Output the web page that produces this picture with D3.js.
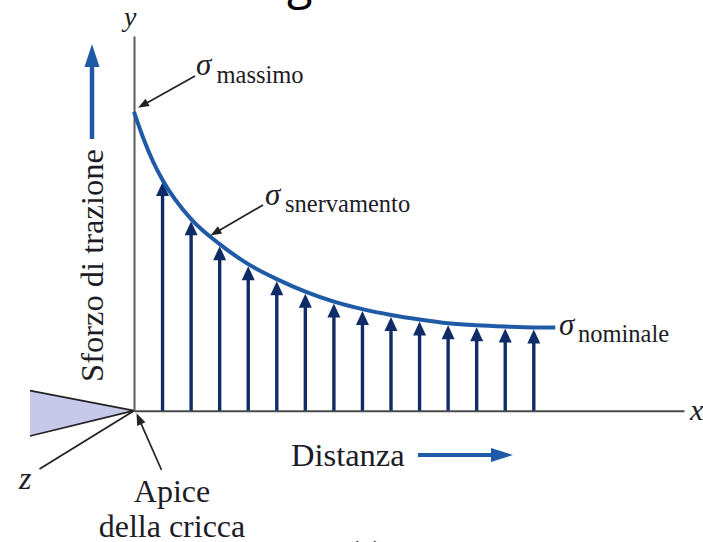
<!DOCTYPE html>
<html>
<head>
<meta charset="utf-8">
<script src="https://cdn.jsdelivr.net/npm/d3@7"></script>
<style>
  html, body { margin: 0; padding: 0; background: #fff; }
  svg { display: block; }
</style>
</head>
<body>
<script>
// Stress profile ahead of a crack tip: distance from the tip vs. tensile stress
const curveDistance = [0, 0.33, 0.67, 1, 2, 3, 4, 5, 6, 7, 8, 9, 10, 11, 12, 13, 14, 14.75];
const curveStress   = [359, 327, 299, 277, 230, 200, 176, 158, 143, 131, 122, 115, 109.5, 105, 102.5, 101, 100, 100];

// Stress vectors drawn along the x axis
const arrowDistance = [1, 2, 3, 4, 5, 6, 7, 8, 9, 10, 11, 12, 13, 14];
const arrowStress   = [277, 230, 200, 176, 158, 143, 131, 122, 115, 109.5, 105, 102.5, 101, 100];

// Axis extents (distance, stress)
const distanceExtent = [0, 19.26];
const stressExtent = [0, 450];

// Texts
const axisNames = ["x", "y", "z"];
const stressSubscripts = ["massimo", "snervamento", "nominale"];
const axisTitles = ["Distanza", "Sforzo di trazione"];
const tipLabel = ["Apice", "della cricca"];

const W = 703, H = 542;
const serif = "'Liberation Serif', 'DejaVu Serif', serif";
const textColor = "#1c1c26";
const curveColor = "#1f5aa6";
const arrowColor = "#0f2c66";
const axisColor = "#4a4a4a";
const inkColor = "#222";

const svg = d3.select("body").append("svg")
  .attr("width", W).attr("height", H)
  .attr("viewBox", `0 0 ${W} ${H}`);

const x = d3.scaleLinear().domain(distanceExtent).range([134, 684]);
const y = d3.scaleLinear().domain(stressExtent).range([410.7, 36]);

// Cut-off heading glyph at the top edge
svg.append("text")
  .attr("x", 287).attr("y", -1)
  .attr("font-family", "'Open Sans', 'Noto Sans', sans-serif")
  .attr("font-size", 47)
  .attr("fill", "#000")
  .text("g");

// Crack wedge (cross-section) entering from the left
const ox = x(0), oy = y(0);
const wedge = [[30, 390.7], [ox, oy], [30, 436]];
svg.append("path")
  .attr("d", d3.line()(wedge) + "Z")
  .attr("fill", "#c6c9e9");
svg.append("path")
  .attr("d", d3.line()(wedge))
  .attr("fill", "none").attr("stroke", inkColor).attr("stroke-width", 1.8);

// z axis (out of plane)
svg.append("line")
  .attr("x1", ox).attr("y1", oy).attr("x2", 39.5).attr("y2", 469)
  .attr("stroke", inkColor).attr("stroke-width", 1.8);

// y and x axes
const yAxis = svg.append("g")
  .attr("transform", `translate(${ox},0)`)
  .call(d3.axisLeft(y).tickValues([]).tickSizeOuter(0));
const xAxis = svg.append("g")
  .attr("transform", `translate(0,${oy})`)
  .call(d3.axisBottom(x).tickValues([]).tickSizeOuter(0));
yAxis.select(".domain").attr("stroke", "#5a5a5a").attr("stroke-width", 2);
xAxis.select(".domain").attr("stroke", axisColor).attr("stroke-width", 2);

// Stress vectors
const headLen = 14, headHalf = 6.5, gap = 2;
const vec = svg.append("g");
arrowDistance.forEach((d, i) => {
  const px = x(d), tip = y(arrowStress[i]) + gap;
  vec.append("line")
    .attr("x1", px).attr("x2", px)
    .attr("y1", oy).attr("y2", tip + headLen - 1)
    .attr("stroke", arrowColor).attr("stroke-width", 3.4);
  vec.append("path")
    .attr("d", d3.line()([[px - headHalf, tip + headLen], [px, tip], [px + headHalf, tip + headLen]]) + "Z")
    .attr("fill", arrowColor);
});

// Stress distribution curve
const pts = curveDistance.map((d, i) => [x(d), y(curveStress[i])]);
svg.append("path")
  .attr("d", d3.line().curve(d3.curveMonotoneX)(pts))
  .attr("fill", "none")
  .attr("stroke", curveColor)
  .attr("stroke-width", 4)
  .attr("stroke-linecap", "butt");

// Helper: thin black leader line with a filled head at its end
function leader(x1, y1, x2, y2, len = 11, half = 4.2) {
  const a = Math.atan2(y2 - y1, x2 - x1);
  const bx = x2 - len * Math.cos(a), by = y2 - len * Math.sin(a);
  const nx = -Math.sin(a) * half, ny = Math.cos(a) * half;
  svg.append("line")
    .attr("x1", x1).attr("y1", y1).attr("x2", bx + 2 * Math.cos(a)).attr("y2", by + 2 * Math.sin(a))
    .attr("stroke", inkColor).attr("stroke-width", 1.7);
  svg.append("path")
    .attr("d", d3.line()([[x2, y2], [bx + nx, by + ny], [bx - nx, by - ny]]) + "Z")
    .attr("fill", inkColor);
}

// Sigma labels
function sigmaLabel(sx, sBase, sub, subX, subBase) {
  svg.append("text")
    .attr("x", sx).attr("y", sBase)
    .attr("font-family", serif).attr("font-style", "italic")
    .attr("font-size", 31).attr("fill", textColor)
    .text("σ");
  svg.append("text")
    .attr("x", subX).attr("y", subBase)
    .attr("font-family", serif).attr("font-size", 24.5).attr("fill", textColor)
    .text(sub);
}

sigmaLabel(196, 75, stressSubscripts[0], 216.5, 83);
leader(195, 76, x(0) + 4, y(curveStress[0]) - 4);

sigmaLabel(265, 205, stressSubscripts[1], 285, 212);
leader(263, 205, 210.5, 235.5);

sigmaLabel(559, 335, stressSubscripts[2], 578, 342);

// Axis names
svg.append("text")
  .attr("x", 124).attr("y", 26)
  .attr("font-family", serif).attr("font-style", "italic")
  .attr("font-size", 28).attr("fill", textColor)
  .text(axisNames[1]);
svg.append("text")
  .attr("x", 690).attr("y", 420)
  .attr("font-family", serif).attr("font-style", "italic")
  .attr("font-size", 30).attr("fill", textColor)
  .text(axisNames[0]);
svg.append("text")
  .attr("x", 19).attr("y", 489)
  .attr("font-family", serif).attr("font-style", "italic")
  .attr("font-size", 32).attr("fill", textColor)
  .text(axisNames[2]);

// Distance title with arrow
svg.append("text")
  .attr("x", 291).attr("y", 466)
  .attr("font-family", serif).attr("font-size", 32.5).attr("fill", textColor)
  .text(axisTitles[0]);
svg.append("line")
  .attr("x1", 418).attr("y1", 455).attr("x2", 494).attr("y2", 455)
  .attr("stroke", curveColor).attr("stroke-width", 4);
svg.append("path")
  .attr("d", d3.line()([[491, 448], [513, 455], [491, 462]]) + "Z")
  .attr("fill", curveColor);

// Stress title with arrow
svg.append("text")
  .attr("transform", "translate(103,265.5) rotate(-90)")
  .attr("text-anchor", "middle")
  .attr("font-family", serif).attr("font-size", 32.5).attr("fill", textColor)
  .text(axisTitles[1]);
svg.append("line")
  .attr("x1", 92).attr("y1", 139).attr("x2", 92).attr("y2", 64)
  .attr("stroke", curveColor).attr("stroke-width", 4.5);
svg.append("path")
  .attr("d", d3.line()([[84.5, 67], [92, 44], [99.5, 67]]) + "Z")
  .attr("fill", curveColor);

// Crack tip label and leader
leader(161.5, 470, ox + 2.5, oy + 2.5, 12, 4.5);
svg.append("text")
  .attr("x", 172).attr("y", 501.5)
  .attr("text-anchor", "middle")
  .attr("font-family", serif).attr("font-size", 32).attr("fill", textColor)
  .text(tipLabel[0]);
svg.append("text")
  .attr("x", 172).attr("y", 536.5)
  .attr("text-anchor", "middle")
  .attr("font-family", serif).attr("font-size", 32).attr("fill", textColor)
  .text(tipLabel[1]);

// Panel tag, mostly below the bottom edge
svg.append("text")
  .attr("x", 366).attr("y", 561)
  .attr("text-anchor", "middle")
  .attr("font-family", serif).attr("font-size", 30).attr("fill", textColor)
  .text("(a)");
</script>
</body>
</html>
